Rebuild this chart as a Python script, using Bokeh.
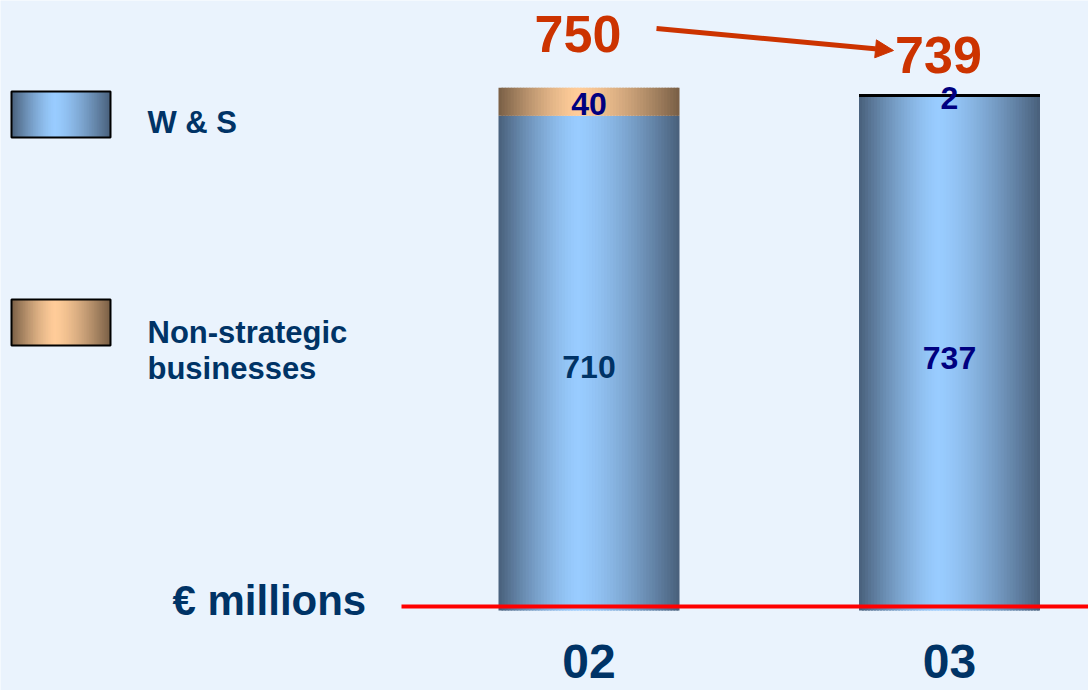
import numpy as np
from bokeh.plotting import figure
from bokeh.models import Range1d, Arrow, NormalHead, ColumnDataSource
from bokeh.core.properties import value
from bokeh.embed import file_html
from bokeh.resources import INLINE

# ---------------- data ----------------
years = ["02", "03"]
ws_values = [710, 737]          # W & S
ns_values = [40, 2]             # Non-strategic businesses
totals = [750, 739]
legend_labels = [["W & S"], ["Non-strategic", "businesses"]]
unit_label = "€ millions"

# ---------------- styles ----------------
BG = "#EAF3FD"
NAVY = "#003366"
DEEP = "#000080"
ORANGE = "#CC3300"
FONT = "Liberation Sans"
BLUE_DARK, BLUE_LIGHT = (0x48, 0x5F, 0x7A), (0x99, 0xCC, 0xFF)
TAN_DARK, TAN_LIGHT = (0x78, 0x5E, 0x45), (0xFF, 0xCC, 0x99)
ws_label_colors = [NAVY, DEEP]
total_offsets = [-36, -22]

W, H = 1088, 690
XC0, XSTEP = 588.5, 360.5      # pixel centre of first bar, pixel step between bars
Y0PX, PXU = 610.0, 0.697       # pixel of value 0, pixels per unit
BAR_W = 181 / XSTEP


def px_x(px):
    return (px - XC0) / XSTEP


def px_y(py):
    return (Y0PX - py) / PXU


p = figure(width=W, height=H, output_backend="svg", toolbar_location=None,
           x_range=Range1d(px_x(0), px_x(W)), y_range=Range1d(px_y(H), px_y(0)),
           x_axis_type=None, y_axis_type=None, min_border=0,
           background_fill_color=BG, border_fill_color=BG, outline_line_color=None)
p.grid.visible = False


def grad_color(t, dark, light):
    peak = 0.44
    d = abs(t - peak) / (peak if t < peak else 1 - peak)
    b = 1 - d ** 1.4
    c = [int(round(dk + (lt - dk) * b)) for dk, lt in zip(dark, light)]
    return "#%02x%02x%02x" % tuple(c)


N = 60


def gradient_rect(left, right, bottom, top, dark, light):
    w = (right - left) / N
    ls, rs, bs, ts, cs = [], [], [], [], []
    for k in range(N):
        l = left + k * w
        r = l + w * (1.6 if k < N - 1 else 1.0)
        ls.append(l); rs.append(r); bs.append(bottom); ts.append(top)
        cs.append(grad_color((k + 0.5) / N, dark, light))
    src = ColumnDataSource(dict(left=ls, right=rs, bottom=bs, top=ts, color=cs))
    p.quad(left="left", right="right", bottom="bottom", top="top",
           fill_color="color", line_color=None, source=src)


# ---------------- stacked bars ----------------
for i in range(len(years)):
    l, r = i - BAR_W / 2, i + BAR_W / 2
    gradient_rect(l, r, 0, ws_values[i], BLUE_DARK, BLUE_LIGHT)
    gradient_rect(l, r, ws_values[i], ws_values[i] + ns_values[i], TAN_DARK, TAN_LIGHT)
    if ns_values[i] < 5:
        top = ws_values[i] + ns_values[i]
        p.segment(x0=[l], x1=[r], y0=[top], y1=[top], line_color="black", line_width=3)

# baseline
p.segment(x0=[px_x(401)], x1=[px_x(W)], y0=[px_y(606)], y1=[px_y(606)],
          line_color="#FF0000", line_width=4)

xs = list(range(len(years)))
# segment labels
p.text(x=xs, y=[v / 2 for v in ws_values], text=[str(v) for v in ws_values],
       text_align="center", text_baseline="middle", text_color=ws_label_colors,
       text_font=value(FONT), text_font_style="bold", text_font_size="32px", y_offset=4)
p.text(x=xs, y=[w + n / 2 for w, n in zip(ws_values, ns_values)], text=[str(v) for v in ns_values],
       text_align="center", text_baseline="middle", text_color=DEEP,
       text_font=value(FONT), text_font_style="bold", text_font_size="32px", y_offset=2)
# totals
p.text(x=xs, y=[w + n for w, n in zip(ws_values, ns_values)], text=[str(v) for v in totals],
       text_align="center", text_baseline="bottom", text_color=ORANGE,
       text_font=value(FONT), text_font_style="bold", text_font_size="52px",
       x_offset=-11, y_offset=total_offsets)
# category labels
p.text(x=xs, y=[px_y(661)] * len(xs), text=years, text_align="center", text_baseline="middle",
       text_color=NAVY, text_font=value(FONT), text_font_style="bold", text_font_size="48px")

# arrow between totals
p.add_layout(Arrow(end=NormalHead(size=18, fill_color=ORANGE, line_color=ORANGE),
                   x_start=px_x(656), y_start=px_y(28), x_end=px_x(893), y_end=px_y(50),
                   line_color=ORANGE, line_width=5))

# unit label
p.text(x=[px_x(172)], y=[px_y(600)], text=[unit_label], text_align="left", text_baseline="middle",
       text_color=NAVY, text_font=value(FONT), text_font_style="bold", text_font_size="42px")

# legend
box_tops = [91, 299]
cols = [(BLUE_DARK, BLUE_LIGHT), (TAN_DARK, TAN_LIGHT)]
for lab, bt, (dk, lt) in zip(legend_labels, box_tops, cols):
    gradient_rect(px_x(11), px_x(110), px_y(bt + 46), px_y(bt), dk, lt)
    p.quad(left=[px_x(11)], right=[px_x(110)], bottom=[px_y(bt + 46)], top=[px_y(bt)],
           fill_color=None, line_color="black", line_width=2)
    y_first = bt + 31 if len(lab) == 1 else bt + 33
    for j, line in enumerate(lab):
        p.text(x=[px_x(147)], y=[px_y(y_first + 36 * j)], text=[line], text_align="left",
               text_baseline="middle", text_color=NAVY, text_font=value(FONT),
               text_font_style="bold", text_font_size="31px")

open("out.html", "w").write(file_html(p, INLINE))
